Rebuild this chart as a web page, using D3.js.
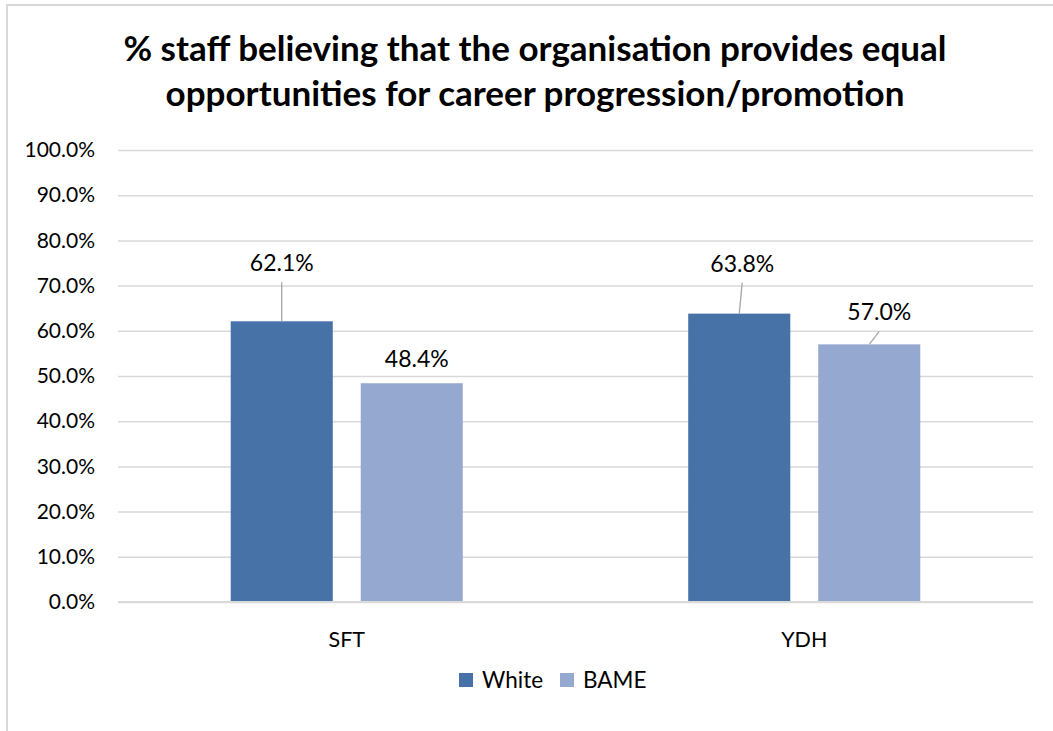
<!DOCTYPE html>
<html>
<head>
<meta charset="utf-8">
<script src="https://cdn.jsdelivr.net/npm/d3@7"></script>
<style>
  html, body { margin: 0; padding: 0; background: #fff; }
  svg { display: block; font-family: Lato, "Open Sans", sans-serif; }
</style>
</head>
<body>
<svg id="chart" width="1053" height="731"></svg>
<script>
// Chart data
const categories = ["SFT", "YDH"];
const seriesNames = ["White", "BAME"];
const whiteValues = [62.1, 63.8];
const bameValues = [48.4, 57.0];
const yTicks = [0, 10, 20, 30, 40, 50, 60, 70, 80, 90, 100];
const titleLines = [
  "% staff believing that the organisation provides equal",
  "opportunities for career progression/promotion"
];
const seriesColors = ["#4672A7", "#95A9D0"];

const rows = categories.map((c, i) => ({
  category: c,
  values: [
    { series: "White", value: whiteValues[i] },
    { series: "BAME", value: bameValues[i] }
  ]
}));

const svg = d3.select("#chart");
const plot = { left: 118, right: 1033, top: 150, bottom: 602 };

// Outer chart frame
svg.append("rect")
  .attr("x", 7).attr("y", 5)
  .attr("width", 1060).attr("height", 740)
  .attr("fill", "none")
  .attr("stroke", "#d9d9d9")
  .attr("stroke-width", 2);

// Title
svg.append("text")
  .attr("text-anchor", "middle")
  .attr("font-weight", "bold")
  .attr("font-size", 35)
  .attr("fill", "#000")
  .selectAll("tspan")
  .data(titleLines)
  .join("tspan")
  .attr("x", 535)
  .attr("y", (d, i) => 61 + i * 45)
  .text(d => d);

const y = d3.scaleLinear().domain([0, 100]).range([plot.bottom, plot.top]);
const x0 = d3.scaleBand().domain(categories).range([plot.left, plot.right]).padding(0);
const x1 = d3.scaleBand().domain(seriesNames).range([0, x0.bandwidth()])
  .paddingInner(0.215).paddingOuter(0.867);
const color = d3.scaleOrdinal().domain(seriesNames).range(seriesColors);

// Gridlines and y-axis labels
const yAxis = d3.axisLeft(y)
  .tickValues(yTicks)
  .tickSize(-(plot.right - plot.left))
  .tickPadding(23)
  .tickFormat(d => d3.format(".1f")(d) + "%");

const gy = svg.append("g")
  .attr("transform", `translate(${plot.left},0)`)
  .call(yAxis);
gy.select(".domain").remove();
gy.selectAll(".tick line").attr("stroke", "#d9d9d9").attr("stroke-width", 1.5);
gy.selectAll(".tick text")
  .attr("font-size", 21)
  .attr("fill", "#000")
  .attr("font-family", "Lato, sans-serif");

// Bars
const groups = svg.append("g")
  .selectAll("g")
  .data(rows)
  .join("g")
  .attr("transform", d => `translate(${x0(d.category)},0)`);

groups.selectAll("rect")
  .data(d => d.values)
  .join("rect")
  .attr("x", d => x1(d.series))
  .attr("y", d => y(d.value))
  .attr("width", x1.bandwidth())
  .attr("height", d => y(0) - y(d.value))
  .attr("fill", d => color(d.series));

// Baseline
svg.append("line")
  .attr("x1", plot.left).attr("x2", plot.right)
  .attr("y1", y(0)).attr("y2", y(0))
  .attr("stroke", "#d9d9d9").attr("stroke-width", 2);

// Data labels, with leader lines where the label sits away from the bar
const labelOffsets = {
  "SFT|White": { dx: 0, dy: -50, leader: true },
  "SFT|BAME": { dx: 5, dy: -16, leader: false },
  "YDH|White": { dx: 3, dy: -42, leader: true },
  "YDH|BAME": { dx: 10, dy: -24, leader: true }
};

rows.forEach(r => {
  r.values.forEach(v => {
    const cx = x0(r.category) + x1(v.series) + x1.bandwidth() / 2;
    const top = y(v.value);
    const o = labelOffsets[r.category + "|" + v.series];
    const tx = cx + o.dx;
    const ty = top + o.dy;
    if (o.leader) {
      svg.append("line")
        .attr("x1", tx).attr("y1", ty + 11)
        .attr("x2", cx).attr("y2", top)
        .attr("stroke", "#a6a6a6").attr("stroke-width", 1.3);
    }
    svg.append("text")
      .attr("x", tx).attr("y", ty)
      .attr("text-anchor", "middle")
      .attr("font-size", 23)
      .attr("fill", "#000")
      .text(d3.format(".1f")(v.value) + "%");
  });
});

// Category labels
svg.append("g")
  .selectAll("text")
  .data(categories)
  .join("text")
  .attr("x", d => x0(d) + x0.bandwidth() / 2)
  .attr("y", 647)
  .attr("text-anchor", "middle")
  .attr("font-size", 21.5)
  .attr("fill", "#000")
  .text(d => d);

// Legend
const legendItems = [
  { name: "White", x: 459 },
  { name: "BAME", x: 560 }
];
const legend = svg.append("g")
  .selectAll("g")
  .data(legendItems)
  .join("g")
  .attr("transform", d => `translate(${d.x},673)`);
legend.append("rect")
  .attr("width", 14).attr("height", 14)
  .attr("fill", d => color(d.name));
legend.append("text")
  .attr("x", 23).attr("y", 15)
  .attr("font-size", 22.5)
  .attr("fill", "#000")
  .text(d => d.name);
</script>
</body>
</html>
